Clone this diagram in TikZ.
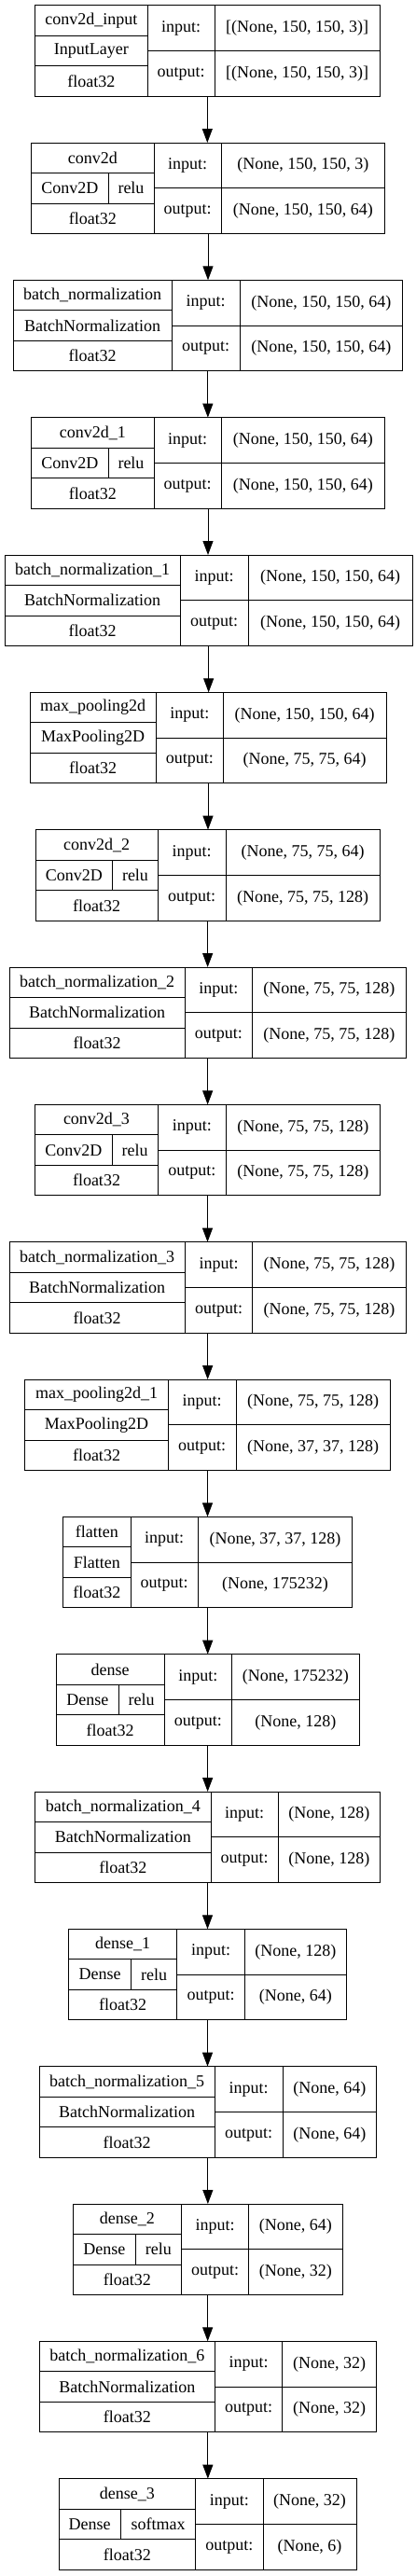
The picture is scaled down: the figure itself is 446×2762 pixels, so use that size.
\documentclass[tikz,border=0pt]{standalone}
\usepackage{fontspec}
\setmainfont{Liberation Serif}
\usetikzlibrary{arrows.meta}

\begin{document}
\begin{tikzpicture}[
      x=1pt, y=-1pt,
      cell/.style={
         rectangle,
         draw=black,
         line width=1pt,
         inner sep=0pt,
         outer sep=0pt,
         font=\fontsize{18}{20}\selectfont},
      layerbox/.style={rectangle, draw=black, line width=1pt, inner sep=0pt, outer sep=0pt},
      myarrow/.style={-{Triangle[length=15pt,width=11pt]}, line width=1pt, draw=black}
      ]
  \useasboundingbox (0,0) rectangle (446,2762);
  \def\bh{97.6}

  \foreach \i/\xl/\xa/\xb/\xr/\xs/\nm/\cls/\act/\inp/\outp in {% layer/left/split/split/right/act split/name/class/act/input/output
    1/37.3/158.3/230/407.3/0/conv2d\_input/InputLayer/{}/{[(None, 150, 150, 3)]}/{[(None, 150, 150, 3)]},
    2/33.7/165/237.3/412.3/116/conv2d/Conv2D/relu/{(None, 150, 150, 3)}/{(None, 150, 150, 64)},
    3/14/184.3/257/431.7/0/batch\_normalization/BatchNormalization/{}/{(None, 150, 150, 64)}/{(None, 150, 150, 64)},
    4/33.7/165/237.3/412.3/116/conv2d\_1/Conv2D/relu/{(None, 150, 150, 64)}/{(None, 150, 150, 64)},
    5/5/193.3/266/442.3/0/batch\_normalization\_1/BatchNormalization/{}/{(None, 150, 150, 64)}/{(None, 150, 150, 64)},
    6/32/167.3/239.3/414/0/max\_pooling2d/MaxPooling2D/{}/{(None, 150, 150, 64)}/{(None, 75, 75, 64)},
    7/38/169.3/242/407.3/120.7/conv2d\_2/Conv2D/relu/{(None, 75, 75, 64)}/{(None, 75, 75, 128)},
    8/10/198.3/270.3/435.3/0/batch\_normalization\_2/BatchNormalization/{}/{(None, 75, 75, 128)}/{(None, 75, 75, 128)},
    9/37.7/169.3/242.3/407.3/120/conv2d\_3/Conv2D/relu/{(None, 75, 75, 128)}/{(None, 75, 75, 128)},
    10/10/198.3/270.7/435.3/0/batch\_normalization\_3/BatchNormalization/{}/{(None, 75, 75, 128)}/{(None, 75, 75, 128)},
    11/26.7/180.3/253/418.3/0/max\_pooling2d\_1/MaxPooling2D/{}/{(None, 75, 75, 128)}/{(None, 37, 37, 128)},
    12/67.7/140/212.3/377.7/0/flatten/Flatten/{}/{(None, 37, 37, 128)}/{(None, 175232)},
    13/60.3/176/248.7/385/127.3/dense/Dense/relu/{(None, 175232)}/{(None, 128)},
    14/37.7/226/298.3/407.3/0/batch\_normalization\_4/BatchNormalization/{}/{(None, 128)}/{(None, 128)},
    15/73.7/189.7/262.3/371.3/140.7/dense\_1/Dense/relu/{(None, 128)}/{(None, 64)},
    16/42/230.3/303/403.7/0/batch\_normalization\_5/BatchNormalization/{}/{(None, 64)}/{(None, 64)},
    17/78.3/194.3/266.7/367/145.3/dense\_2/Dense/relu/{(None, 64)}/{(None, 32)},
    18/42/230.7/302.7/403.7/0/batch\_normalization\_6/BatchNormalization/{}/{(None, 32)}/{(None, 32)},
    19/63/209.7/282/382/129.3/dense\_3/Dense/softmax/{(None, 32)}/{(None, 6)}}
  {
    \pgfmathsetmacro\yt{5.7+147.33*(\i-1)}
    \node[layerbox, minimum width=\xr-\xl, minimum height=\bh] (L\i) at ({(\xl+\xr)/2},{\yt+\bh/2}) {};
    \node[cell, minimum width=\xa-\xl, minimum height=\bh/3] (L\i-name) at ({(\xl+\xa)/2},{\yt+\bh/6}) {\nm};
    \ifdim\xs pt=0pt
      \node[cell, minimum width=\xa-\xl, minimum height=\bh/3] (L\i-class) at ({(\xl+\xa)/2},{\yt+\bh/2}) {\cls};
    \else
      \node[cell, minimum width=\xs-\xl, minimum height=\bh/3] (L\i-class) at ({(\xl+\xs)/2},{\yt+\bh/2}) {\cls};
      \node[cell, minimum width=\xa-\xs, minimum height=\bh/3] (L\i-act) at ({(\xs+\xa)/2},{\yt+\bh/2}) {\act};
    \fi
    \node[cell, minimum width=\xa-\xl, minimum height=\bh/3] (L\i-type) at ({(\xl+\xa)/2},{\yt+5*\bh/6}) {float32};
    \node[cell, minimum width=\xb-\xa, minimum height=\bh/2] (L\i-inl) at ({(\xa+\xb)/2},{\yt+\bh/4}) {input:};
    \node[cell, minimum width=\xb-\xa, minimum height=\bh/2] (L\i-outl) at ({(\xa+\xb)/2},{\yt+3*\bh/4}) {output:};
    \node[cell, minimum width=\xr-\xb, minimum height=\bh/2] (L\i-in) at ({(\xb+\xr)/2},{\yt+\bh/4}) {\inp};
    \node[cell, minimum width=\xr-\xb, minimum height=\bh/2] (L\i-out) at ({(\xb+\xr)/2},{\yt+3*\bh/4}) {\outp};
  }

  % one arrow between each pair of layers
  \foreach \i [evaluate=\i as \j using int(\i+1)] in {1,...,18}
    \draw [myarrow] (L\i.south) -- (L\i.south |- L\j.north);
\end{tikzpicture}
\end{document}
